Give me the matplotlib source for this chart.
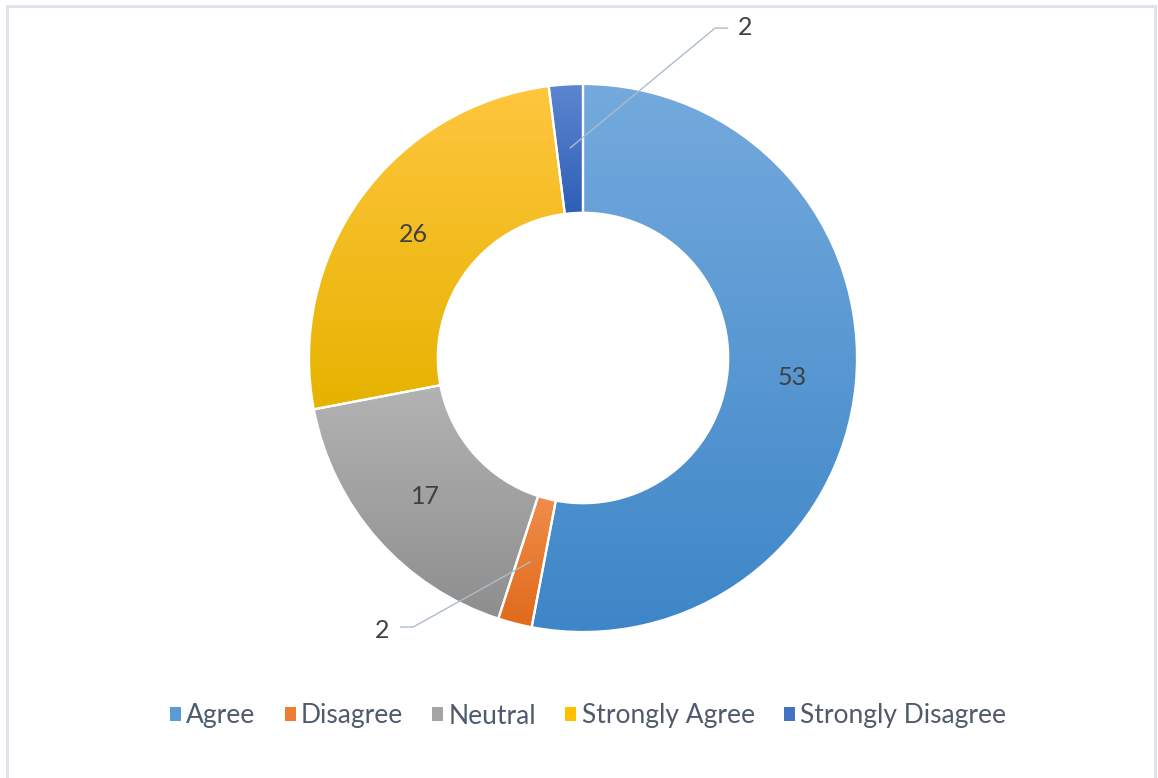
import numpy as np
import matplotlib
matplotlib.use("Agg")
from matplotlib import pyplot as plt
from matplotlib.colors import LinearSegmentedColormap
from matplotlib.patches import Rectangle, Patch

plt.rcParams['font.family'] = ['Lato', 'DejaVu Sans']

# survey responses
categories = ['Agree', 'Disagree', 'Neutral', 'Strongly Agree', 'Strongly Disagree']
counts = [53, 2, 17, 26, 2]

base_colors = ['#5b9bd5', '#ed7d31', '#a5a5a5', '#ffc000', '#4472c4']
# top / bottom shades for the vertical gradient in each slice
grad_top = ['#74aadd', '#f08d4c', '#b3b3b3', '#ffc63f', '#5d86d0']
grad_bottom = ['#3e86c8', '#e06a1a', '#8e8e8e', '#e6b300', '#2e5eb6']

W, H = 1158, 778
cx, cy, R = 583, 358, 274  # pie center and radius in pixels

fig = plt.figure(figsize=(W / 100, H / 100), dpi=100)
ax = fig.add_axes([0, 0, 1, 1])

wedges, _ = ax.pie(counts, startangle=90, counterclock=False, radius=1.0,
                   wedgeprops=dict(width=0.47, edgecolor='white', linewidth=1.6))

for w, top, bot in zip(wedges, grad_top, grad_bottom):
    w.set_facecolor('none')
    w.set_zorder(3)
    bb = w.get_path().get_extents()
    cmap = LinearSegmentedColormap.from_list('g', [top, bot])
    grad = np.linspace(0, 1, 256).reshape(-1, 1)
    im = ax.imshow(grad, cmap=cmap, extent=(bb.x0, bb.x1, bb.y0, bb.y1),
                   origin='upper', aspect='auto', zorder=2, interpolation='bilinear')
    im.set_clip_path(w)

# data labels at the middle of the ring
total = sum(counts)
cum = np.cumsum([0] + counts)
r_lab = 0.767
lead_col = '#aebccb'
for i, v in enumerate(counts):
    ang = np.deg2rad(90 - 360 * (cum[i] + v / 2) / total)
    px, py = r_lab * np.cos(ang), r_lab * np.sin(ang)
    if v >= 5:
        ax.text(px, py, str(v), ha='center', va='center', fontsize=18,
                color='#404040', zorder=5)
    else:
        # small slices get a callout with a leader line
        if py > 0:
            elbow = (0.482, 1.204)
            end = (0.530, 1.204)
            txt = (0.591, 1.208)
        else:
            elbow = (-0.620, -0.982)
            end = (-0.668, -0.982)
            txt = (-0.734, -0.993)
        ax.plot([px, elbow[0], end[0]], [py, elbow[1], end[1]], color=lead_col,
                lw=1.0, zorder=6, solid_capstyle='butt')
        ax.text(txt[0], txt[1], str(v), ha='center', va='center', fontsize=18,
                color='#404040', zorder=6)

ax.set_xlim(-cx / R, (W - cx) / R)
ax.set_ylim((cy - H) / R, cy / R)
ax.set_aspect('auto')
ax.axis('off')

handles = [Patch(facecolor=c, edgecolor='none') for c in base_colors]
fig.legend(handles, categories, loc='center', bbox_to_anchor=(588 / W, 1 - 716 / H),
           ncol=5, frameon=False, fontsize=19, labelcolor='#4f5b6c',
           handlelength=0.42, handleheight=0.42, handletextpad=0.2, columnspacing=1.1)

# outer chart frame
fig.patches.append(Rectangle((7 / W, -0.05), 1148 / W, 1.05 - 6 / H,
                             transform=fig.transFigure, fill=False,
                             edgecolor='#dfe4ea', linewidth=2.2))

fig.savefig('out.png', dpi=100, facecolor='white')
